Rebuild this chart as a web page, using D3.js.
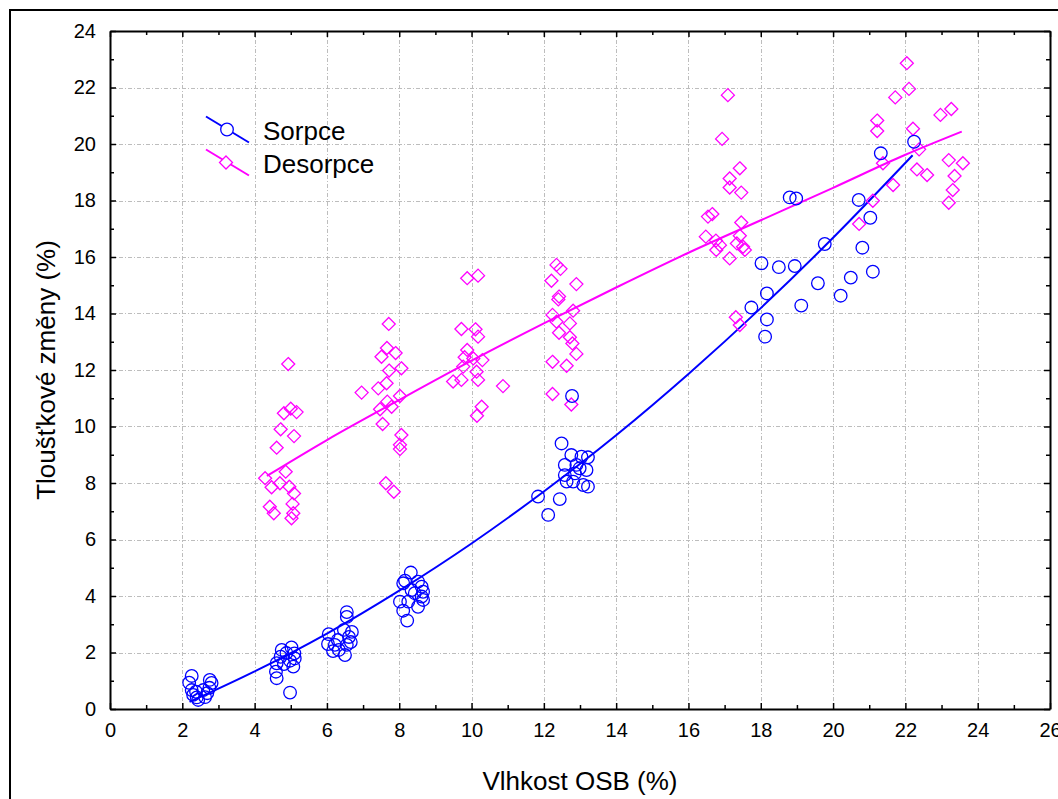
<!DOCTYPE html>
<html>
<head>
<meta charset="utf-8">
<script src="https://cdn.jsdelivr.net/npm/d3@7"></script>
<style>
  html, body { margin: 0; padding: 0; background: #fff; }
  svg { display: block; }
  text { font-family: Arial, "Liberation Sans", sans-serif; fill: #000; }
</style>
</head>
<body>
<svg id="chart" width="1058" height="799"></svg>
<script>
// Measured points: sorption (x = moisture %, y = thickness change %)
const sorpceX = [
  2.26, 2.19, 2.38, 2.30, 2.58, 2.76, 2.81, 2.75, 2.69, 2.63, 2.44, 2.26, 2.40,
  4.61, 4.59, 4.75, 5.02, 5.10, 5.11, 4.98, 4.81, 4.61, 4.98, 5.07, 4.72, 4.88,
  6.05, 6.03, 6.17, 6.33, 6.50, 6.55, 6.61, 6.66, 6.69, 6.55, 6.55, 6.47, 6.30, 6.22,
  8.32, 8.11, 8.16, 8.52, 8.62, 8.66, 8.62, 8.66, 8.43, 8.25, 8.02, 8.11, 8.52, 8.22, 8.34,
  12.49, 12.76, 12.58, 12.58, 12.63, 12.81, 12.99, 13.04, 13.22, 13.18, 13.09, 13.22,
  11.84, 12.44, 12.12, 12.86, 12.90, 12.78,
  17.74, 18.02, 18.12, 18.17, 18.17, 18.50, 18.80, 18.98, 18.94, 19.12, 19.58, 19.77,
  20.21, 20.49, 20.71, 20.81, 21.03, 21.10, 21.32, 22.24
];
const sorpceY = [
  1.17, 0.93, 0.61, 0.50, 0.67, 1.03, 0.92, 0.75, 0.56, 0.42, 0.32, 0.67, 0.41,
  1.62, 1.32, 2.09, 2.18, 1.97, 1.79, 1.71, 1.59, 1.09, 0.58, 1.50, 1.85, 1.98,
  2.65, 2.30, 2.05, 2.09, 1.91, 2.27, 2.55, 2.37, 2.73, 3.26, 3.43, 2.80, 2.44, 2.27,
  4.83, 4.45, 4.54, 4.51, 4.33, 4.15, 3.98, 3.86, 4.10, 3.80, 3.80, 3.48, 3.62, 3.13, 4.21,
  9.40, 8.99, 8.64, 8.28, 8.05, 8.05, 8.52, 8.93, 8.91, 8.46, 7.93, 7.87,
  7.52, 7.43, 6.87, 8.34, 8.64, 11.08,
  14.21, 15.78, 13.18, 13.79, 14.71, 15.64, 18.11, 18.07, 15.68, 14.28, 15.07, 16.46,
  14.63, 15.27, 18.02, 16.33, 17.39, 15.48, 19.67, 20.08
];

// Measured points: desorption
const desorpceX = [
  4.93, 4.81, 5.00, 5.16, 4.72, 5.09, 4.61, 4.29, 4.86, 4.47, 4.70, 4.96, 5.09, 5.05, 4.42, 4.53, 5.07, 5.02,
  6.96, 7.51, 7.72, 8.06, 7.65, 7.42, 7.67, 7.47, 7.79, 8.02, 7.54, 8.06, 8.02, 8.02, 7.63, 7.85, 7.71, 7.66, 7.90,
  9.88, 10.18, 9.72, 10.11, 10.18, 9.88, 9.81, 10.05, 10.30, 9.77, 10.14, 9.49, 9.72, 10.18, 10.87, 10.28, 10.15,
  12.35, 12.46, 12.21, 12.90, 12.42, 12.40, 12.81, 12.24, 12.35, 12.72, 12.42, 12.72, 12.79, 12.90, 12.24, 12.63, 12.24, 12.76,
  17.09, 16.93, 17.42, 17.14, 17.14, 17.46, 16.54, 16.66, 17.46, 16.48, 16.76, 16.87, 16.77, 17.42, 17.34, 17.51, 17.56, 17.14, 17.31, 17.42,
  22.04, 22.10, 21.72, 21.22, 21.22, 22.21, 22.97, 23.27, 22.38, 21.38, 22.32, 22.60, 23.20, 23.59, 23.36, 21.66, 23.31, 23.20, 21.10, 20.72
];
const desorpceY = [
  12.21, 10.47, 10.63, 10.51, 9.90, 9.66, 9.25, 8.17, 8.40, 7.85, 7.99, 7.87, 7.63, 7.26, 7.16, 6.93, 6.93, 6.75,
  11.20, 12.47, 11.98, 12.06, 11.53, 11.35, 10.88, 10.61, 10.70, 11.08, 10.09, 9.70, 9.35, 9.20, 7.99, 7.69, 13.63, 12.78, 12.60,
  15.25, 15.34, 13.45, 13.44, 13.18, 12.71, 12.45, 12.41, 12.35, 12.12, 11.94, 11.59, 11.65, 11.65, 11.43, 10.70, 10.38,
  15.72, 15.58, 15.16, 15.04, 14.60, 14.50, 14.10, 13.95, 13.71, 13.65, 13.32, 13.16, 12.94, 12.57, 12.29, 12.15, 11.15, 10.78,
  21.73, 20.18, 19.14, 18.78, 18.46, 18.28, 17.43, 17.52, 17.22, 16.72, 16.58, 16.42, 16.25, 16.75, 16.48, 16.36, 16.25, 15.95, 13.87, 13.59,
  22.86, 21.95, 21.65, 20.83, 20.46, 20.54, 21.03, 21.24, 19.81, 19.32, 19.10, 18.90, 19.43, 19.32, 18.87, 18.55, 18.37, 17.92, 17.99, 17.17
];

// Fitted trend curves, sampled along x
const sorpceFitX = [2.2, 4, 6, 8, 10, 12, 14, 16, 18, 20, 22.2];
const sorpceFitY = [0.25, 1.33, 2.67, 4.19, 5.86, 7.70, 9.69, 11.86, 14.19, 16.68, 19.60];
const desorpceFitX = [4.34, 6, 8, 10, 12, 14, 16, 18, 20, 22, 23.56];
const desorpceFitY = [8.25, 9.52, 10.94, 12.33, 13.65, 14.92, 16.15, 17.30, 18.45, 19.62, 20.44];

// Axis ticks
const xTicks = [0, 2, 4, 6, 8, 10, 12, 14, 16, 18, 20, 22, 24, 26];
const yTicks = [0, 2, 4, 6, 8, 10, 12, 14, 16, 18, 20, 22, 24];
const seriesNames = ["Sorpce", "Desorpce"];

const BLUE = "#0000ff", MAGENTA = "#ff00ff";
const svg = d3.select("#chart");

// Outer frame
svg.append("rect").attr("x", 10).attr("y", 10).attr("width", 1100).attr("height", 1000)
  .attr("fill", "none").attr("stroke", "#000").attr("stroke-width", 2);

const L = 110, R = 1050, T = 31, B = 709;
const x = d3.scaleLinear().domain([0, 26]).range([L, R]);
const y = d3.scaleLinear().domain([0, 24]).range([B, T]);

// Grid
const grid = svg.append("g").attr("stroke", "#bdbdbd").attr("stroke-width", 1)
  .attr("stroke-dasharray", "4,2,1,2");
grid.selectAll("line.vx").data(xTicks.filter(d => d > 0 && d < 26)).join("line")
  .attr("x1", d => Math.round(x(d)) + 0.5).attr("x2", d => Math.round(x(d)) + 0.5)
  .attr("y1", T).attr("y2", B);
grid.selectAll("line.hy").data(yTicks.filter(d => d > 0 && d < 24)).join("line")
  .attr("y1", d => Math.round(y(d)) + 0.5).attr("y2", d => Math.round(y(d)) + 0.5)
  .attr("x1", L).attr("x2", R);

// Axes with inward ticks on all four sides
const minorX = d3.range(1, 26, 2), minorY = d3.range(1, 24, 2);
function tickAxis(axisFn, scale, major, minor, transform, showLabels) {
  const g = svg.append("g").attr("transform", transform);
  const ax = axisFn(scale).tickValues(major).tickSizeInner(-6).tickSizeOuter(0).tickPadding(14);
  if (!showLabels) ax.tickFormat("");
  g.call(ax);
  g.append("g").call(axisFn(scale).tickValues(minor).tickSizeInner(-4).tickSizeOuter(0).tickFormat(""))
    .select(".domain").remove();
  g.selectAll(".tick line").attr("stroke", "#000").attr("stroke-width", 1.5);
  g.selectAll(".domain").attr("stroke", "#000").attr("stroke-width", 2);
  g.selectAll("text").style("font-size", "20px").style("font-family", "Arial, 'Liberation Sans', sans-serif");
  return g;
}
tickAxis(d3.axisBottom, x, xTicks, minorX, `translate(0,${B})`, true);
tickAxis(d3.axisTop, x, xTicks, minorX, `translate(0,${T})`, false);
tickAxis(d3.axisLeft, y, yTicks, minorY, `translate(${L},0)`, true);
tickAxis(d3.axisRight, y, yTicks, minorY, `translate(${R},0)`, false);

// Fitted curves
const line = d3.line().x(d => x(d[0])).y(d => y(d[1])).curve(d3.curveMonotoneX);
const plot = svg.append("g");
plot.append("path").datum(d3.zip(desorpceFitX, desorpceFitY)).attr("d", line)
  .attr("fill", "none").attr("stroke", MAGENTA).attr("stroke-width", 2);
plot.append("path").datum(d3.zip(sorpceFitX, sorpceFitY)).attr("d", line)
  .attr("fill", "none").attr("stroke", BLUE).attr("stroke-width", 2);

// Markers
const diamond = r => `M0,${-r}L${r},0L0,${r}L${-r},0Z`;
plot.append("g").selectAll("path").data(d3.zip(desorpceX, desorpceY)).join("path")
  .attr("transform", d => `translate(${x(d[0])},${y(d[1])})`)
  .attr("d", diamond(6.5)).attr("fill", "none").attr("stroke", MAGENTA).attr("stroke-width", 1.3);
plot.append("g").selectAll("circle").data(d3.zip(sorpceX, sorpceY)).join("circle")
  .attr("cx", d => x(d[0])).attr("cy", d => y(d[1])).attr("r", 6.3)
  .attr("fill", "none").attr("stroke", BLUE).attr("stroke-width", 1.3);

// Legend
const leg = svg.append("g");
const items = [
  { name: seriesNames[0], color: BLUE, y0: 129.5, mark: "circle" },
  { name: seriesNames[1], color: MAGENTA, y0: 162.5, mark: "diamond" }
];
items.forEach(it => {
  leg.append("line").attr("x1", 206).attr("y1", it.y0 - 13).attr("x2", 249).attr("y2", it.y0 + 13)
    .attr("stroke", it.color).attr("stroke-width", 2);
  if (it.mark === "circle") {
    leg.append("circle").attr("cx", 227).attr("cy", it.y0).attr("r", 6.3)
      .attr("fill", "#fff").attr("stroke", it.color).attr("stroke-width", 1.3);
  } else {
    leg.append("path").attr("transform", `translate(226,${it.y0})`).attr("d", diamond(6.5))
      .attr("fill", "#fff").attr("stroke", it.color).attr("stroke-width", 1.3);
  }
  leg.append("text").attr("x", 263).attr("y", it.y0 + 10).style("font-size", "26px").text(it.name);
});

// Axis titles
svg.append("text").attr("x", (L + R) / 2).attr("y", 790).attr("text-anchor", "middle")
  .style("font-size", "26px").text("Vlhkost OSB (%)");
svg.append("text").attr("transform", `translate(55,${(T + B) / 2}) rotate(-90)`)
  .attr("text-anchor", "middle").style("font-size", "26px").text("Tloušťkové změny (%)");
</script>
</body>
</html>
